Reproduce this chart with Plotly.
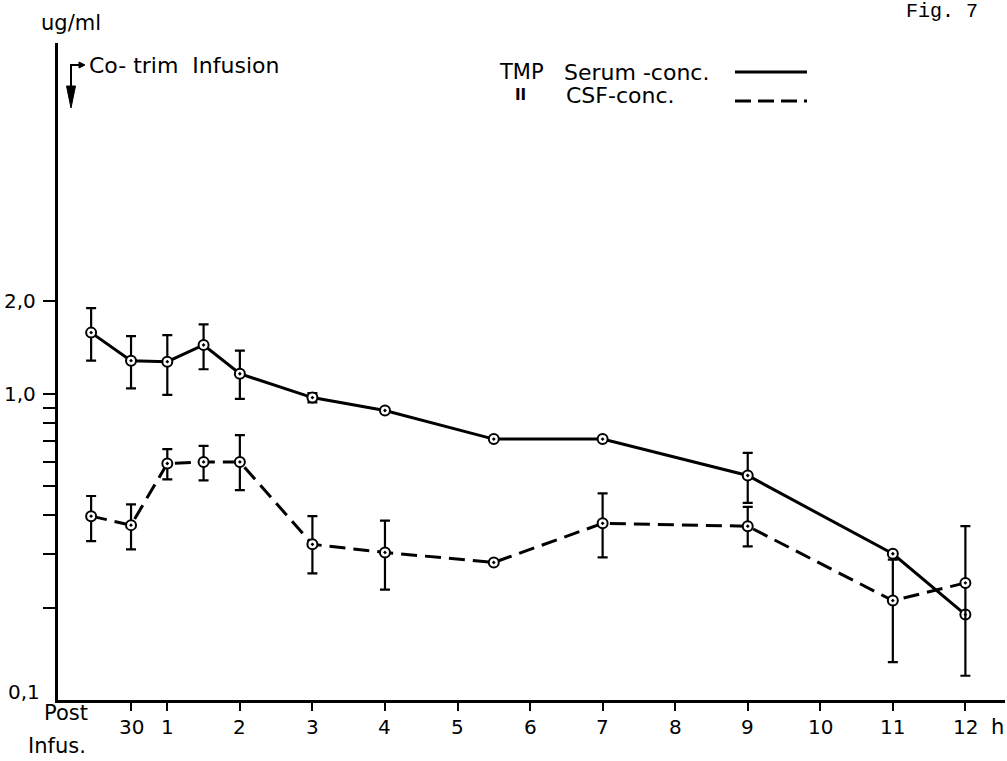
import numpy as np
import plotly.graph_objects as go

# ---------------- data ----------------
times = [-0.05, 0.5, 1, 1.5, 2, 3, 4, 5.5, 7, 9, 11, 12]          # hours after infusion
serum = [1.58, 1.28, 1.27, 1.44, 1.16, 0.97, 0.88, 0.71, 0.71, 0.54, 0.30, 0.19]
serum_err_plus = [0.32, 0.26, 0.28, 0.24, 0.22, 0.033, None, None, None, 0.10, None, None]
serum_err_minus = [0.30, 0.24, 0.28, 0.24, 0.20, 0.035, None, None, None, 0.10, None, None]
csf = [0.398, 0.372, 0.591, 0.598, 0.598, 0.322, 0.303, 0.281, 0.377, 0.369, 0.211, 0.241]
csf_err_plus = [0.065, 0.063, 0.067, 0.077, 0.133, 0.076, 0.082, None, 0.095, 0.058, 0.076, 0.128]
csf_err_minus = [0.068, 0.062, 0.066, 0.077, 0.114, 0.063, 0.074, None, 0.085, 0.052, 0.078, 0.121]

x_tick_vals = [0.5, 1, 2, 3, 4, 5, 6, 7, 8, 9, 10, 11, 12]
x_tick_text = ["30", "1", "2", "3", "4", "5", "6", "7", "8", "9", "10", "11", "12"]
y_minor_ticks = [0.2, 0.3, 0.4, 0.5, 0.6, 0.7, 0.8, 0.9, 1.0, 2.0]
y_label_vals = [2.0, 1.0]
y_label_text = ["2,0", "1,0"]

# ---------------- layout geometry ----------------
W, H = 1007, 761
L, R, T, B = 58, 2, 43, 61
PW, PH = W - L - R, H - T - B
FONT = "DejaVu Sans, Verdana, sans-serif"


def px(x):
    return (x - L) / PW


def py(y):
    return (H - B - y) / PH


fig = go.Figure()

fig.add_trace(go.Scatter(
    x=times, y=serum, mode="lines+markers", name="Serum-conc.",
    line=dict(color="black", width=3),
    marker=dict(symbol="circle-dot", size=10, color="white",
                line=dict(color="black", width=2)),
    error_y=dict(type="data", array=serum_err_plus, arrayminus=serum_err_minus,
                 symmetric=False, color="black", thickness=2.2, width=5),
))
fig.add_trace(go.Scatter(
    x=times, y=csf, mode="lines+markers", name="CSF-conc.",
    line=dict(color="black", width=3, dash="16px,8px"),
    marker=dict(symbol="circle-dot", size=10, color="white",
                line=dict(color="black", width=2)),
    error_y=dict(type="data", array=csf_err_plus, arrayminus=csf_err_minus,
                 symmetric=False, color="black", thickness=2.2, width=5),
))

ann = []
# y tick labels
for v, t in zip(y_label_vals, y_label_text):
    ann.append(dict(x=px(38), y=np.log10(v), xref="paper", yref="y", text=t,
                    xanchor="right", yanchor="middle", showarrow=False,
                    font=dict(size=20, color="black", family=FONT)))
ann.append(dict(x=px(42), y=py(692), xref="paper", yref="paper", text="0,1",
                xanchor="right", yanchor="middle", showarrow=False,
                font=dict(size=20, color="black", family=FONT)))
# x tick labels
for v, t in zip(x_tick_vals, x_tick_text):
    ann.append(dict(x=v, y=py(727), xref="x", yref="paper", text=t,
                    xanchor="center", yanchor="middle", showarrow=False,
                    font=dict(size=20, color="black", family=FONT)))
ann.append(dict(x=px(997), y=py(727), xref="paper", yref="paper", text="h",
                xanchor="center", yanchor="middle", showarrow=False,
                font=dict(size=21, color="black", family=FONT)))
ann.append(dict(x=px(66), y=py(713), xref="paper", yref="paper", text="Post",
                xanchor="center", yanchor="middle", showarrow=False,
                font=dict(size=21, color="black", family=FONT)))
ann.append(dict(x=px(57), y=py(746), xref="paper", yref="paper", text="Infus.",
                xanchor="center", yanchor="middle", showarrow=False,
                font=dict(size=21, color="black", family=FONT)))
# axis unit
ann.append(dict(x=px(39), y=py(23), xref="paper", yref="paper", text="ug/ml",
                xanchor="left", yanchor="middle", showarrow=False,
                font=dict(size=21, color="black", family=FONT)))
# infusion note
ann.append(dict(x=px(87), y=py(65), xref="paper", yref="paper", text="Co- trim  Infusion",
                xanchor="left", yanchor="middle", showarrow=False,
                font=dict(size=22, color="black", family=FONT)))
# legend texts
ann.append(dict(x=px(497), y=py(72), xref="paper", yref="paper", text="TMP",
                xanchor="left", yanchor="middle", showarrow=False,
                font=dict(size=21, color="black", family=FONT)))
ann.append(dict(x=px(562), y=py(72), xref="paper", yref="paper", text="Serum -conc.",
                xanchor="left", yanchor="middle", showarrow=False,
                font=dict(size=22, color="black", family=FONT)))
ann.append(dict(x=px(520), y=py(95), xref="paper", yref="paper", text="<b>II</b>",
                xanchor="center", yanchor="middle", showarrow=False,
                font=dict(size=15, color="black", family=FONT)))
ann.append(dict(x=px(564), y=py(95), xref="paper", yref="paper", text="CSF-conc.",
                xanchor="left", yanchor="middle", showarrow=False,
                font=dict(size=22, color="black", family=FONT)))
# figure number, placed right at the top edge
ann.append(dict(x=px(904), y=py(-2), xref="paper", yref="paper", text="Fig. 7",
                xanchor="left", yanchor="top", showarrow=False,
                font=dict(size=20, color="black", family="Liberation Mono, Courier New, monospace")))

shapes = [
    # legend line samples
    dict(type="line", xref="paper", yref="paper", x0=px(735), x1=px(807), y0=py(72), y1=py(72),
         line=dict(color="black", width=3)),
    dict(type="line", xref="paper", yref="paper", x0=px(735), x1=px(807), y0=py(101), y1=py(101),
         line=dict(color="black", width=3, dash="16px,7px")),
    # bent arrow marking the infusion
    dict(type="path", xref="paper", yref="paper",
         path=f"M {px(71)},{py(88)} L {px(71)},{py(65)} L {px(80)},{py(65)}",
         line=dict(color="black", width=2)),
    dict(type="path", xref="paper", yref="paper",
         path=f"M {px(79)},{py(62)} L {px(85)},{py(65)} L {px(79)},{py(68)} Z",
         line=dict(color="black", width=1), fillcolor="black"),
    dict(type="path", xref="paper", yref="paper",
         path=f"M {px(66.5)},{py(86)} L {px(75.5)},{py(86)} L {px(71)},{py(108)} Z",
         line=dict(color="black", width=1), fillcolor="black"),
]

fig.update_layout(
    width=W, height=H,
    margin=dict(l=L, r=R, t=T, b=B),
    paper_bgcolor="white", plot_bgcolor="white",
    showlegend=False,
    annotations=ann,
    shapes=shapes,
    xaxis=dict(range=[-0.5066, 12.546], showgrid=False, zeroline=False,
               showline=True, linecolor="black", linewidth=2.5,
               tickmode="array", tickvals=x_tick_vals, ticks="outside",
               ticklen=8, tickwidth=2, tickcolor="black", showticklabels=False),
    yaxis=dict(type="log", range=[-1, 1.1436], showgrid=False, zeroline=False,
               showline=True, linecolor="black", linewidth=2.5,
               tickmode="array", tickvals=y_minor_ticks, ticks="outside",
               ticklen=12, tickwidth=2, tickcolor="black", showticklabels=False),
)

fig.write_html("out.html")
